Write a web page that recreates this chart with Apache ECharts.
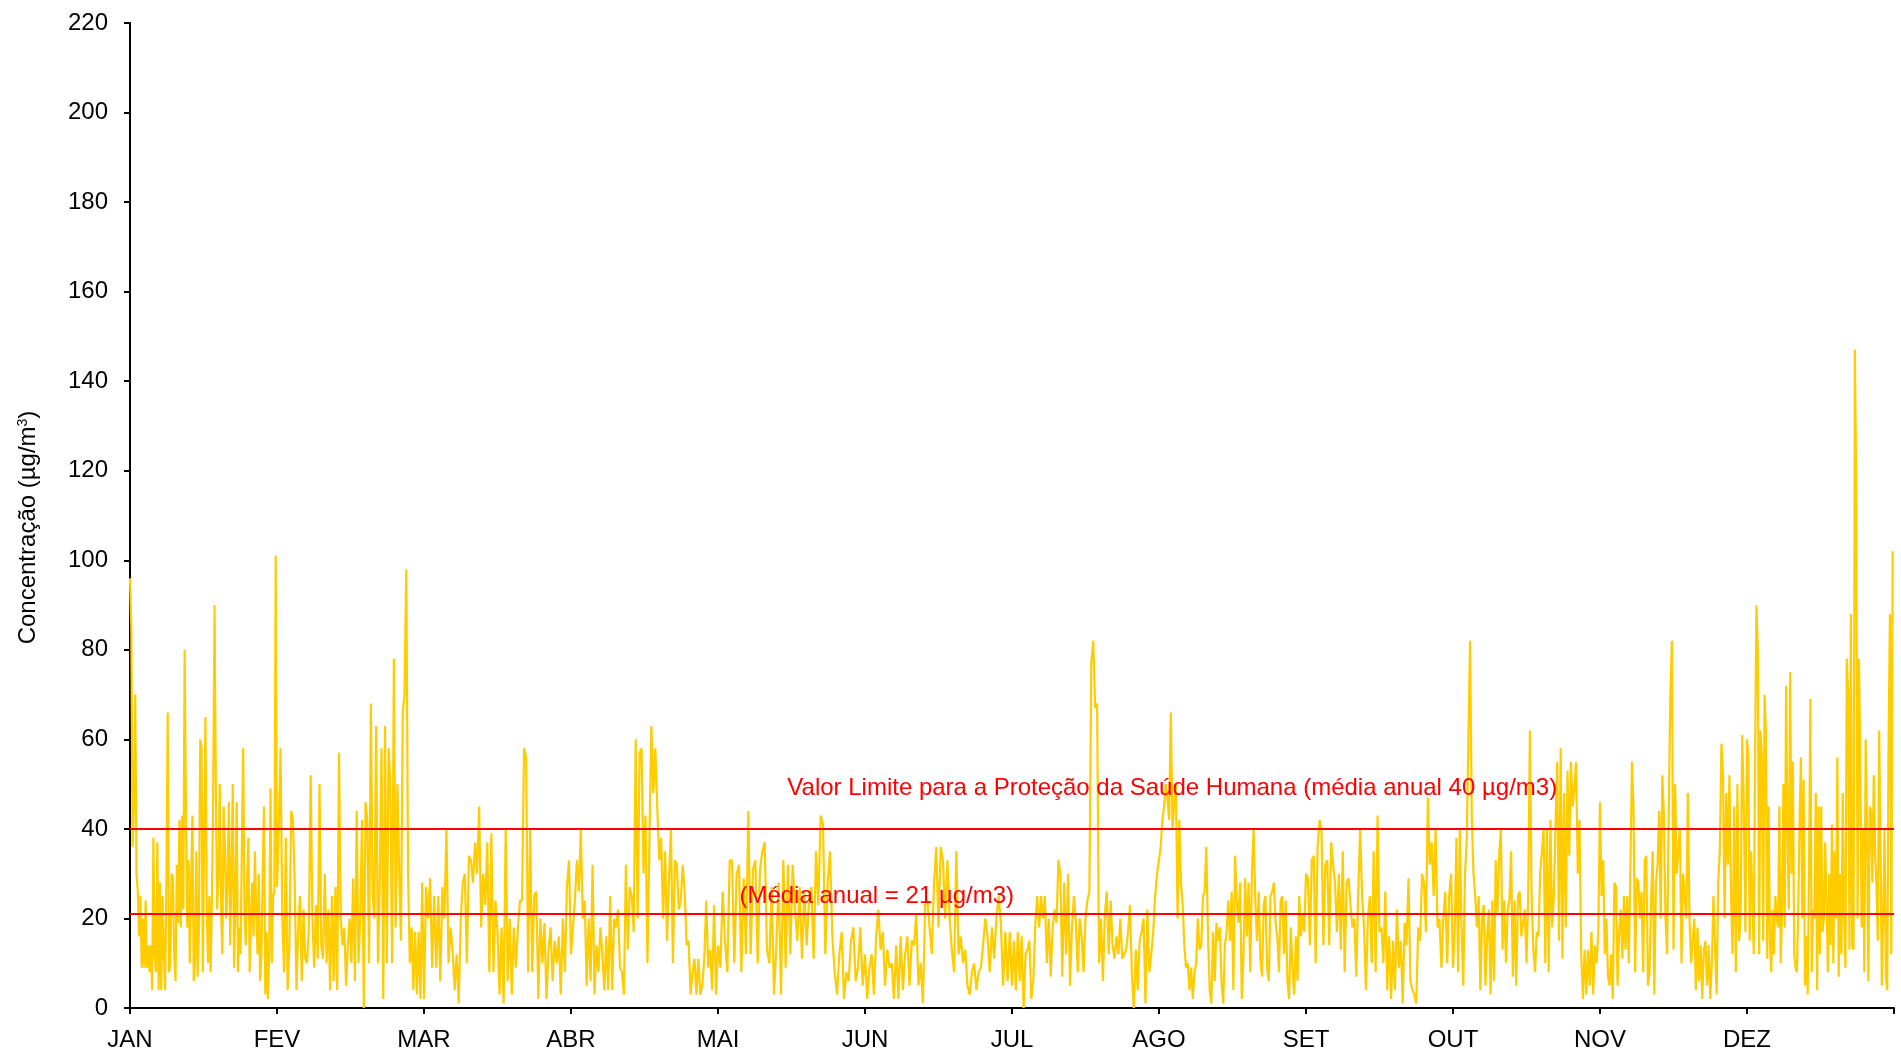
<!DOCTYPE html>
<html>
<head>
<meta charset="utf-8">
<script src="https://cdn.jsdelivr.net/npm/echarts@6/dist/echarts.min.js"></script>
<style>
html,body{margin:0;padding:0;background:#fff;}
#chart{width:1901px;height:1052px;}
</style>
</head>
<body>
<div id="chart"></div>
<script>
// Month tick labels
var months = ['JAN','FEV','MAR','ABR','MAI','JUN','JUL','AGO','SET','OUT','NOV','DEZ'];
var yTicks = [0,20,40,60,80,100,120,140,160,180,200,220];

// Concentration values (µg/m3), month by month
var jan = [96,85,36,45,70,30,26,16,25,9,20,9,24,9,14,8,14,4,38,12,8,37,4,28,4,25,12,4,29,66,8,10,30,29,12,6,32,19,42,18,43,22,80,45,18,33,10,28,43,6,10,35,7,18,60,58,8,40,65,22,10,25,8,25,50,90,48,22,30,50,22,12,45,36,20,28,46,14,30,50,9,24,46,8,18,12,36,58,22,14,28,38,8,20,28,16,35,22,12,30,6,12,30,45,3,17,2,12,49,10,25,26,101];
var fev = [27,40,58,20,8,38,4,14,44,42,28,4,18,25,6,22,11,10,18,52,20,9,23,11,50,14,11,30,10,22,4,25,6,27,4,57,20,14,18,5,14,20,10,29,6,44,10,20,42,0,46,42,10,68,25,20,63,10,28,58,2,63,10,58,50,10,78,18,50,30,15,66,70,98,30,10,18,4,17,3,17,2,28];
var mar = [2,27,20,29,9,25,9,25,6,27,20,40,10,18,13,4,12,1,20,28,30,10,34,33,28,37,30,45,18,30,23,37,8,39,8,24,17,3,18,1,40,6,20,3,18,9,18,24,24,58,56,8,40,8,25,26,2,20,10,19,2,13,18,6,15,10,16,3,20,8,27,33];
var abr = [12,18,24,33,26,40,20,24,5,20,6,32,3,14,8,18,12,4,16,4,25,4,20,18,22,9,8,3,32,13,27,25,17,60,20,57,58,30,43,10,37,63,48,58,45,33,38,20,35,15,29,40,10,33,32,22,24,32,26,14,15,3,8,11,3,11,3,5,11,24,9,13,4,23,3];
var mai = [14,9,26,15,8,33,33,10,30,32,8,29,12,44,12,31,33,10,31,35,37,13,10,27,3,14,28,3,33,9,32,12,32,22,15,27,11,26,14,24,27,11,35,23,43,41,12,28,35,16,8,3,12,17,2,8,6,15,18,6,9,18,5];
var jun = [12,2,9,12,3,16,22,13,17,5,13,9,10,2,14,2,16,4,12,16,5,15,14,21,5,10,1,23,24,18,12,28,36,18,36,33,20,33,20,13,8,35,12,16,10,13,5,3,8,10,4,8,9,14,20,16,8,18,11,20,25,19,5,17,6,17];
var jul = [5,15,4,17,6,16,0,12,13,15,2,6,18,25,18,25,20,25,10,20,7,18,22,19,33,30,7,28,12,30,5,18,25,19,8,20,16,8,20,24,26,77,82,67,68,10,20,6,21,26,12,24,14,11,16,12,20,11,11,13,17,23,7,0,13,4,15,17,20,1,22,8,12,17,25,30];
var ago = [30,36,42,45,50,47,42,66,40,46,50,20,42,28,23,14,9,10,4,9,2,8,10,20,13,14,25,26,36,16,4,1,17,6,19,15,18,6,1,14,17,24,15,26,4,34,24,19,28,2,12,29,16,28,8,30,40,24,15,26,11,7,23,25,9,6,25,26,28,19,16,8,24,25,12,24,6,2,18,9,3,16,6,25,16,21,17];
var set = [30,29,14,33,34,10,36,42,40,14,32,33,14,37,32,28,17,30,13,35,8,28,29,23,18,20,7,26,40,25,18,4,20,25,10,35,8,43,17,18,10,26,4,16,2,15,4,22,9,15,1,19,14,29,6,4,3,1,18,15,30,28,17,47,32,37,25,40,18,20,9,20,26,10,25,30];
var out = [9,17,38,8,40,18,5,30,37,60,82,42,30,25,18,25,4,20,23,5,16,22,3,24,6,33,21,34,40,13,24,10,22,24,35,7,24,5,25,26,16,19,22,10,25,62,25,13,8,17,16,30,35,40,10,40,8,42,18,25,41,55,15,58,11,48,18,53,34,55,45,49,55,30,42,12,2,13,3,13,5,17,3,14,10,17];
var nov = [46,25,33,12,20,7,5,12,2,28,27,5,17,22,11,25,13,25,10,30,55,44,8,29,28,20,26,8,33,34,5,8,24,35,3,28,32,44,20,52,43,20,12,43,69,82,13,50,30,35,40,10,30,25,20,48,20,10,15,20,4,18,6,14,2,13,15,5,14,2,10,25,14,3,28,35,59,52,20,48,32,52,25,12,45,8,50,15,20,61,45,17];
var dez = [60,56,15,35,25,12,56,90,80,12,62,56,15,70,62,11,45,15,8,22,12,25,20,18,45,10,22,50,18,72,40,22,75,30,55,12,9,8,22,42,56,20,51,5,16,3,30,69,8,22,20,48,4,45,12,45,17,20,37,23,8,30,14,41,10,35,20,56,7,30,12,48,20,9,78,70,13,88,14,13,147,115,20,78,55,18,40,8,60,40,6,45,44,28,52,35,27,15,62,35,5,20,40,7,4,60,88,12,102];

var limitValue = 40;
var annualMean = 21;
var limitText = 'Valor Limite para a Proteção da Saúde Humana (média anual 40 µg/m3)';
var meanText = '(Média anual = 21 µg/m3)';

var monthData = [jan,fev,mar,abr,mai,jun,jul,ago,set,out,nov,dez];
var seriesData = [];
monthData.forEach(function(arr, m){
  arr.forEach(function(v, i){ seriesData.push([m + i/arr.length, v]); });
});

var FONT = 'Liberation Sans, Arial, sans-serif';
var chart = echarts.init(document.getElementById('chart'));
chart.setOption({
  backgroundColor:'#ffffff',
  animation:false,
  grid:{left:130, right:7, top:23, bottom:44},
  xAxis:{
    type:'value', min:0, max:12, interval:1,
    axisLine:{lineStyle:{color:'#000', width:2}},
    axisTick:{show:true, length:6, lineStyle:{color:'#000', width:2}},
    axisLabel:{color:'#000', fontSize:24, fontFamily:FONT, margin:20,
      formatter:function(v){ return months[v] || ''; }},
    splitLine:{show:false}
  },
  yAxis:{
    type:'value', min:yTicks[0], max:yTicks[yTicks.length-1], interval:20,
    name:'Concentração (µg/m{sup|3})',
    nameLocation:'middle', nameRotate:90, nameGap:90,
    nameTextStyle:{color:'#000', fontSize:24, fontFamily:FONT, padding:[0,24,0,0],
      rich:{sup:{fontSize:14, verticalAlign:'top', padding:[0,0,10,0], fontFamily:FONT}}},
    axisLine:{show:true, lineStyle:{color:'#000', width:2}},
    axisTick:{show:true, length:6, lineStyle:{color:'#000', width:2}},
    axisLabel:{color:'#000', fontSize:24, fontFamily:FONT, margin:22},
    splitLine:{show:false}
  },
  series:[{
    type:'line',
    data:seriesData,
    showSymbol:false,
    symbol:'none',
    lineStyle:{color:'#FFCC00', width:2.2},
    itemStyle:{color:'#FFCC00'},
    markLine:{
      silent:true, symbol:'none',
      label:{show:false},
      lineStyle:{color:'#FF0000', width:2, type:'solid'},
      data:[{yAxis:limitValue},{yAxis:annualMean}]
    },
    markPoint:{
      silent:true,
      symbol:'circle', symbolSize:0,
      label:{show:true, position:'inside', color:'#FF0000', fontSize:24, fontFamily:FONT},
      data:[
        {coord:[7.09, 49], label:{formatter:limitText}},
        {coord:[5.08, 25], label:{formatter:meanText}}
      ]
    }
  }]
});
</script>
</body>
</html>
